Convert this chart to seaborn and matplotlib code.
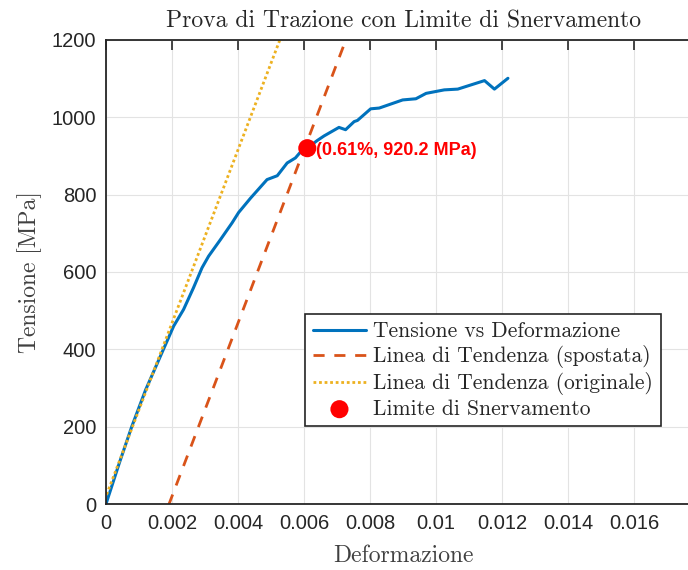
import numpy as np
import pandas as pd
import seaborn as sns
import matplotlib.pyplot as plt

# Measured stress-strain curve
strain = [0, 0.0004, 0.00078, 0.0012, 0.00174, 0.00205, 0.00235, 0.00265,
          0.00291, 0.00311, 0.00347, 0.00382, 0.00402, 0.00438, 0.00488,
          0.00519, 0.00549, 0.00574, 0.00595, 0.0061, 0.0064, 0.00661,
          0.00706, 0.00726, 0.00752, 0.00762, 0.00802, 0.00828, 0.00899,
          0.00939, 0.0097, 0.01025, 0.01066, 0.01147, 0.01177, 0.01218]
stress = [0, 105, 200, 295, 400, 460, 503, 559,
          611, 641, 684, 727, 754, 791, 839,
          849, 882, 895, 916, 920, 940, 952,
          974, 968, 989, 992, 1022, 1024, 1045,
          1048, 1062, 1071, 1073, 1095, 1073, 1101]

# Linear fit of the elastic region and its 0.2 % offset copy
young_modulus = 224000.0   # MPa (slope)
intercept = 20.0           # MPa
offset = 0.002
trend_strain = [-0.0001, 0.0075]

# Yield point
yield_strain = 0.0061
yield_stress = 920.2

x_ticks = [0, 0.002, 0.004, 0.006, 0.008, 0.01, 0.012, 0.014, 0.016, 0.018]
x_tick_labels = ["0", "0.002", "0.004", "0.006", "0.008", "0.01", "0.012", "0.014", "0.016", ""]
y_ticks = [0, 200, 400, 600, 800, 1000, 1200]

sns.set_theme(style="whitegrid")
plt.rcParams["font.family"] = ["Liberation Sans", "DejaVu Sans"]

serif = ["cmr10", "DejaVu Serif"]
blue, orange, yellow = "#0072BD", "#D95319", "#EDB120"

fig = plt.figure(figsize=(6.88, 5.70), dpi=100)
ax = fig.add_axes([106 / 688, 1 - 504 / 570, (700 - 106) / 688, (504 - 40) / 570])

curve = pd.DataFrame({"Deformazione": strain, "Tensione": stress})
ts = np.array(trend_strain)
orig = pd.DataFrame({"x": ts, "y": young_modulus * ts + intercept})
shifted = pd.DataFrame({"x": ts + offset, "y": young_modulus * ts + intercept})

sns.lineplot(data=curve, x="Deformazione", y="Tensione", ax=ax, color=blue,
             linewidth=2.2, label="Tensione vs Deformazione", sort=False)
sns.lineplot(data=shifted, x="x", y="y", ax=ax, color=orange, linewidth=2.0,
             linestyle=(0, (4, 3.5)), label="Linea di Tendenza (spostata)")
sns.lineplot(data=orig, x="x", y="y", ax=ax, color=yellow, linewidth=2.0,
             linestyle=(0, (1, 1)), label="Linea di Tendenza (originale)")
sns.scatterplot(x=[yield_strain], y=[yield_stress], ax=ax, color="#FF0000",
                s=170, edgecolor="none", label="Limite di Snervamento", zorder=5)

ax.text(yield_strain + 0.00025, yield_stress - 5,
        f"({yield_strain * 100:.2f}%, {yield_stress:.1f} MPa)",
        color="#FF0000", fontweight="bold", fontsize=13, va="center", ha="left")

ax.set_xlim(0, 0.018)
ax.set_ylim(0, 1200)
ax.set_xticks(x_ticks)
ax.set_xticklabels(x_tick_labels)
ax.set_yticks(y_ticks)
ax.grid(True, color="#E3E3E3", linewidth=0.8)
ax.set_axisbelow(True)
ax.tick_params(axis="both", which="both", direction="in", length=7, width=1.2,
               colors="#262626", labelsize=14.5, top=True, right=True, pad=7)
for sp in ax.spines.values():
    sp.set_color("#262626")
    sp.set_linewidth(1.3)

ax.set_title("Prova di Trazione con Limite di Snervamento", family=serif,
             fontsize=17, color="#262626", pad=9)
ax.set_xlabel("Deformazione", family=serif, fontsize=17, color="#404040", labelpad=9)
ax.set_ylabel("Tensione [MPa]", family=serif, fontsize=17, color="#404040", labelpad=7)

leg = ax.legend(loc="upper left", bbox_to_anchor=((305 - 106) / 594, 1 - (314 - 40) / 464),
                prop={"family": serif, "size": 15.5}, frameon=True, fancybox=False,
                framealpha=1, edgecolor="#262626", borderpad=0.35, labelspacing=0.19,
                handlelength=2.5, handletextpad=0.33, borderaxespad=0)
leg.get_frame().set_linewidth(1.2)

fig.savefig("out.png", dpi=100)
